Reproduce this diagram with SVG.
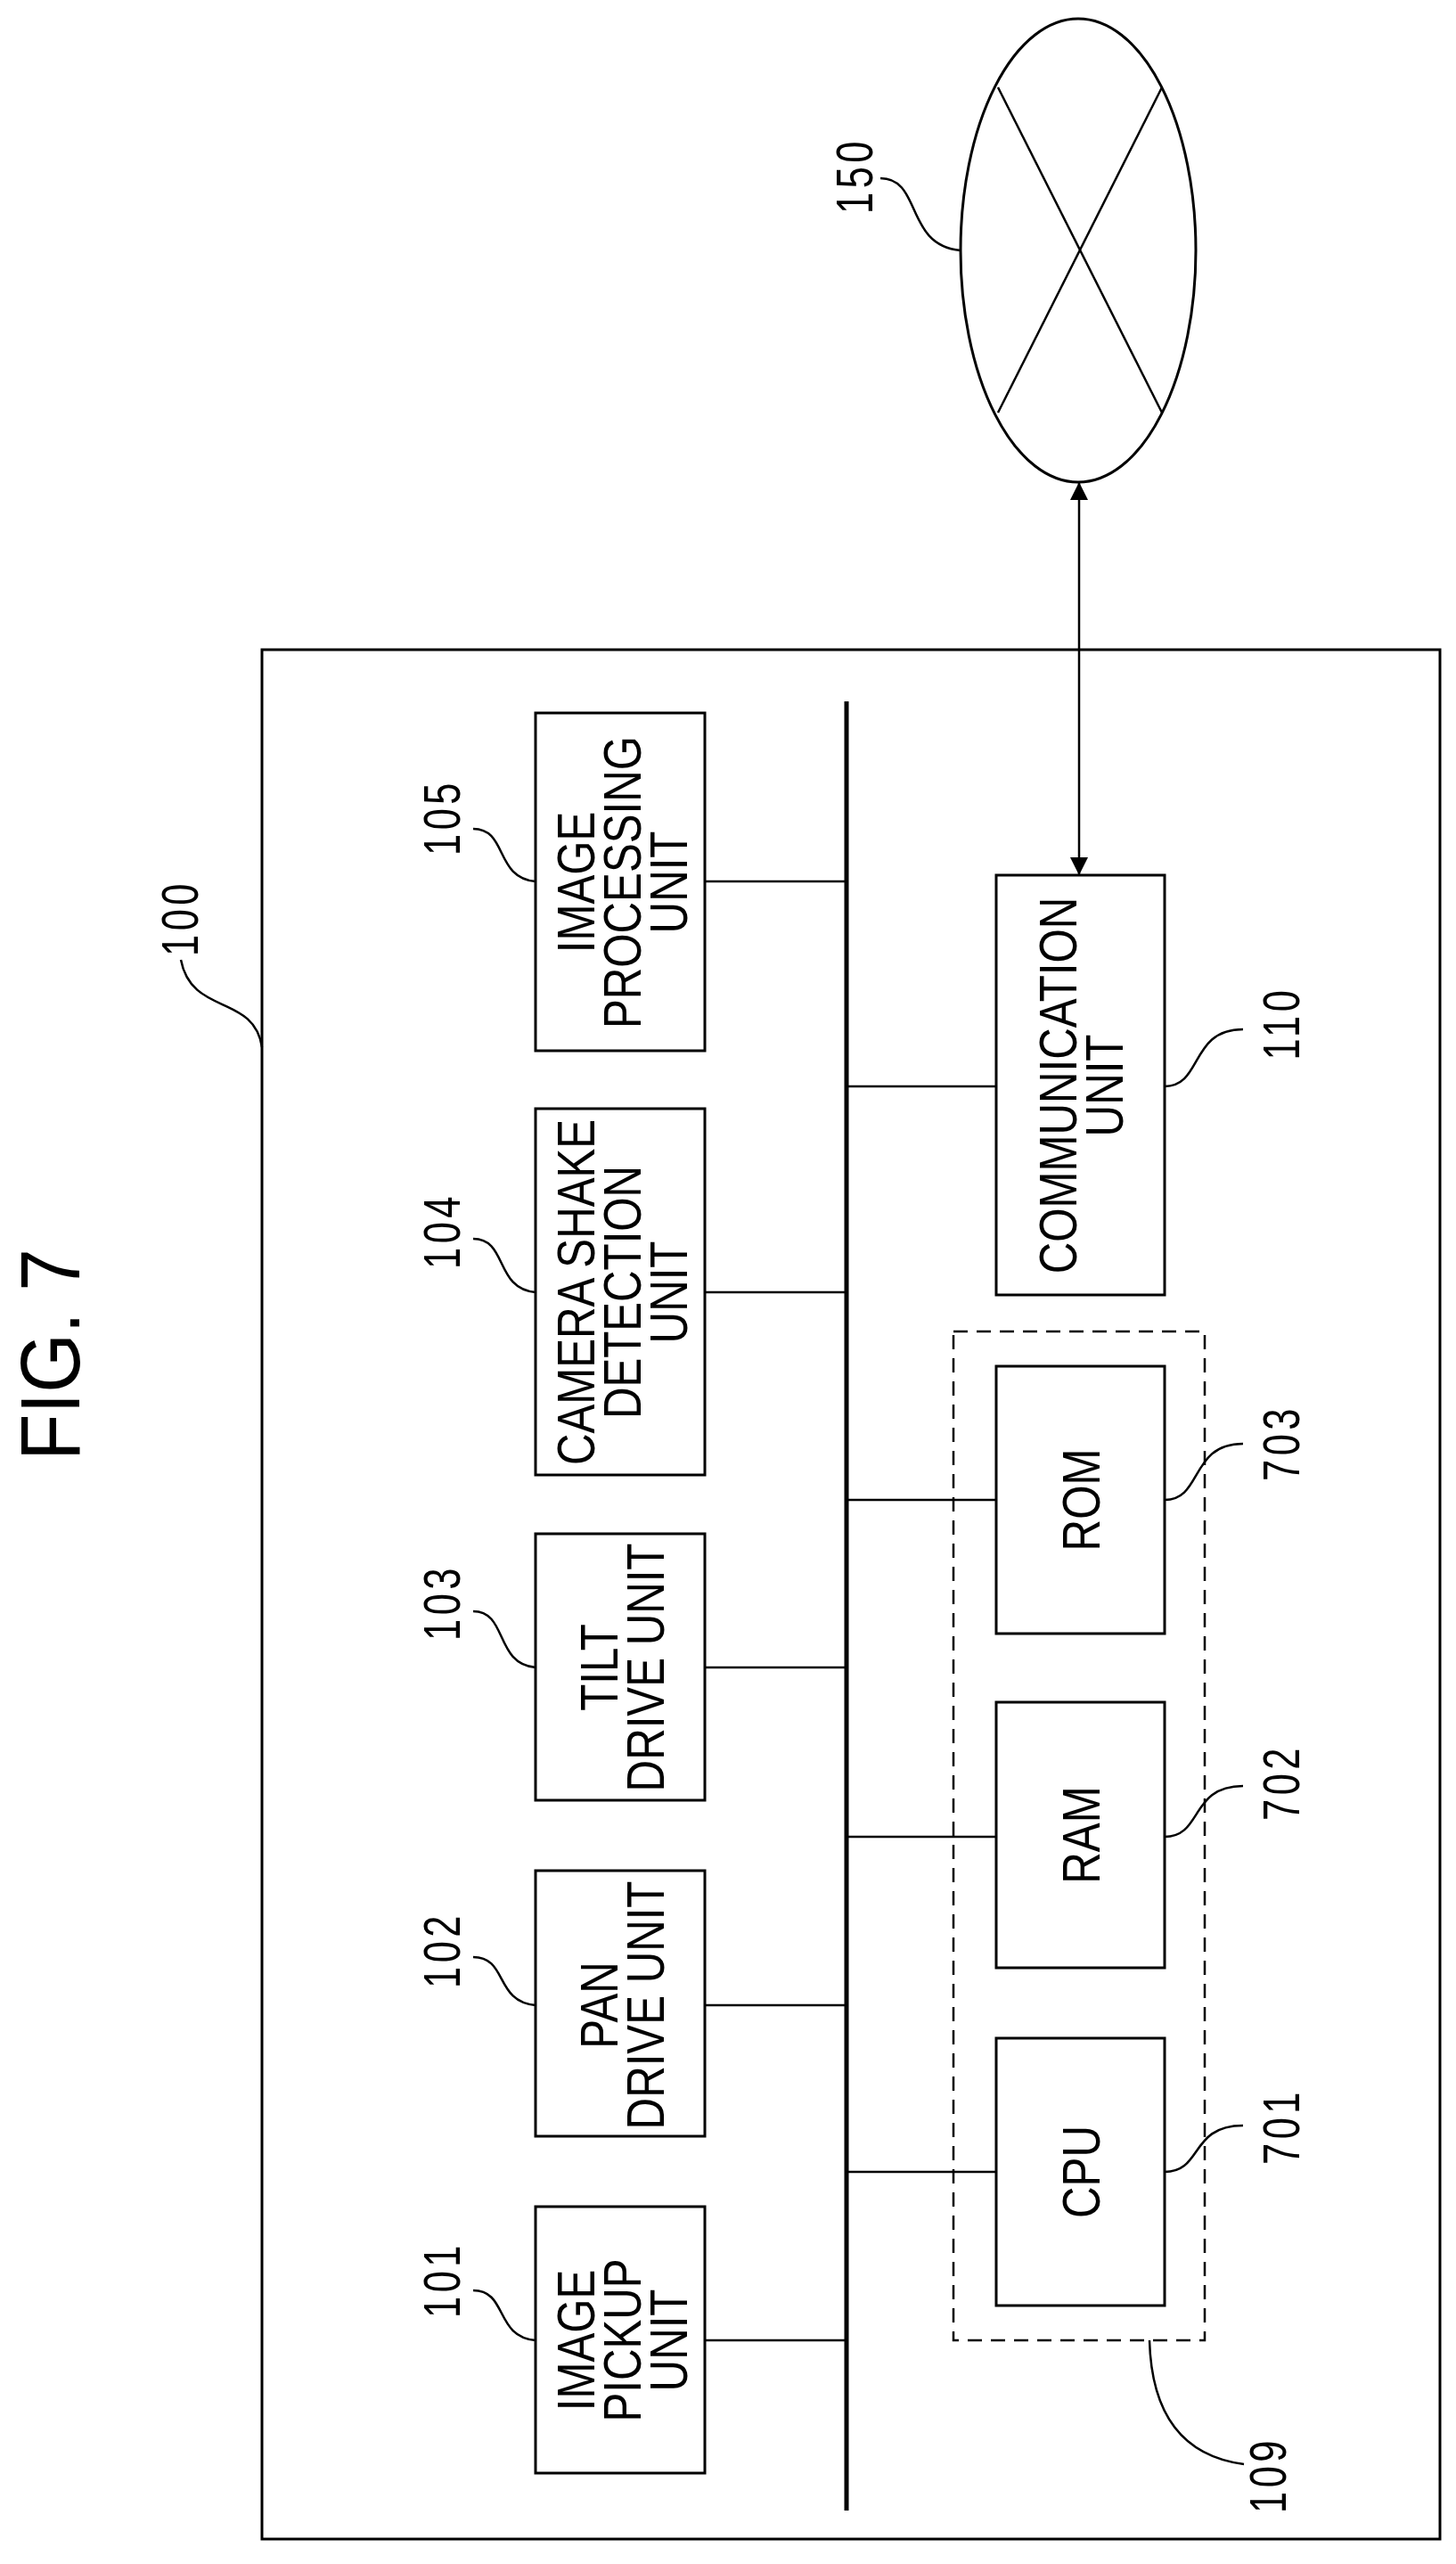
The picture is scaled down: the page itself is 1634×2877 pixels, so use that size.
<svg xmlns="http://www.w3.org/2000/svg" width="1634" height="2877" viewBox="0 0 1634 2877">
<style>
.b{fill:none;stroke:#000;stroke-width:3}
.l{fill:none;stroke:#000;stroke-width:2.5}
.t{font-family:"Liberation Sans",Arial,sans-serif;font-size:60px;text-anchor:middle;fill:#000}
.n{font-family:"Liberation Sans",Arial,sans-serif;font-size:58px;text-anchor:middle;fill:#000;letter-spacing:6px}
</style>
<defs>
<marker id="ah" viewBox="0 0 10 10" refX="10" refY="5" markerWidth="26" markerHeight="20" markerUnits="userSpaceOnUse" orient="auto-start-reverse">
<path d="M0,0 L10,5 L0,10 Z" fill="#000"/>
</marker>
</defs>
<rect width="1634" height="2877" fill="#fff"/>
<text class="t" style="font-size:95px" transform="translate(89,1520) rotate(-90) scale(0.9,1)">FIG. 7</text>

<g id="n100"><rect class="b" x="294" y="729" width="1322" height="2120"/>
<text class="n" transform="translate(222,1030) rotate(-90) scale(0.75,1)">100</text></g>

<g id="n150"><ellipse class="b" cx="1210" cy="281" rx="132" ry="260"/>
<line class="l" x1="1120" y1="98" x2="1304" y2="463"/><line class="l" x1="1304" y1="98" x2="1120" y2="463"/>
<text class="n" transform="translate(979,197) rotate(-90) scale(0.75,1)">150</text></g>

<g id="n105"><rect class="b" x="601" y="800" width="190" height="379"/>
<text class="t" transform="translate(667,990) rotate(-90) scale(0.82,1)">IMAGE</text>
<text class="t" transform="translate(719,990) rotate(-90) scale(0.82,1)">PROCESSING</text>
<text class="t" transform="translate(771,990) rotate(-90) scale(0.82,1)">UNIT</text>
<text class="n" transform="translate(516,917) rotate(-90) scale(0.75,1)">105</text></g>

<g id="n104"><rect class="b" x="601" y="1244" width="190" height="411"/>
<text class="t" transform="translate(667,1450) rotate(-90) scale(0.82,1)">CAMERA SHAKE</text>
<text class="t" transform="translate(719,1450) rotate(-90) scale(0.82,1)">DETECTION</text>
<text class="t" transform="translate(771,1450) rotate(-90) scale(0.82,1)">UNIT</text>
<text class="n" transform="translate(516,1381) rotate(-90) scale(0.75,1)">104</text></g>

<g id="n103"><rect class="b" x="601" y="1721" width="190" height="299"/>
<text class="t" transform="translate(693,1871) rotate(-90) scale(0.82,1)">TILT</text>
<text class="t" transform="translate(745,1871) rotate(-90) scale(0.82,1)">DRIVE UNIT</text>
<text class="n" transform="translate(516,1798) rotate(-90) scale(0.75,1)">103</text></g>

<g id="n102"><rect class="b" x="601" y="2099" width="190" height="298"/>
<text class="t" transform="translate(693,2250) rotate(-90) scale(0.82,1)">PAN</text>
<text class="t" transform="translate(745,2250) rotate(-90) scale(0.82,1)">DRIVE UNIT</text>
<text class="n" transform="translate(516,2188) rotate(-90) scale(0.75,1)">102</text></g>

<g id="n101"><rect class="b" x="601" y="2476" width="190" height="299"/>
<text class="t" transform="translate(667,2626) rotate(-90) scale(0.82,1)">IMAGE</text>
<text class="t" transform="translate(719,2626) rotate(-90) scale(0.82,1)">PICKUP</text>
<text class="t" transform="translate(771,2626) rotate(-90) scale(0.82,1)">UNIT</text>
<text class="n" transform="translate(516,2558) rotate(-90) scale(0.75,1)">101</text></g>

<g id="n110"><rect class="b" x="1118" y="982" width="189" height="471"/>
<text class="t" transform="translate(1208,1218) rotate(-90) scale(0.82,1)">COMMUNICATION</text>
<text class="t" transform="translate(1260,1218) rotate(-90) scale(0.82,1)">UNIT</text>
<text class="n" transform="translate(1458,1148) rotate(-90) scale(0.75,1)">110</text></g>

<g id="n109"><rect x="1070" y="1494" width="282" height="1132" fill="none" stroke="#000" stroke-width="2.5" stroke-dasharray="16,10"/>
<text class="n" transform="translate(1443,2777) rotate(-90) scale(0.75,1)">109</text></g>

<g id="n703"><rect class="b" x="1118" y="1533" width="189" height="300"/>
<text class="t" transform="translate(1234,1683) rotate(-90) scale(0.82,1)">ROM</text>
<text class="n" transform="translate(1458,1619) rotate(-90) scale(0.75,1)">703</text></g>

<g id="n702"><rect class="b" x="1118" y="1910" width="189" height="298"/>
<text class="t" transform="translate(1234,2059) rotate(-90) scale(0.82,1)">RAM</text>
<text class="n" transform="translate(1458,2000) rotate(-90) scale(0.75,1)">702</text></g>

<g id="n701"><rect class="b" x="1118" y="2287" width="189" height="300"/>
<text class="t" transform="translate(1234,2437) rotate(-90) scale(0.82,1)">CPU</text>
<text class="n" transform="translate(1458,2386) rotate(-90) scale(0.75,1)">701</text></g>

<g id="connectors">
<line x1="950" y1="787" x2="950" y2="2817" stroke="#000" stroke-width="5"/>
<line class="l" x1="791" y1="989" x2="950" y2="989"/>
<line class="l" x1="791" y1="1450" x2="950" y2="1450"/>
<line class="l" x1="791" y1="1871" x2="950" y2="1871"/>
<line class="l" x1="791" y1="2250" x2="950" y2="2250"/>
<line class="l" x1="791" y1="2626" x2="950" y2="2626"/>
<line class="l" x1="950" y1="1219" x2="1118" y2="1219"/>
<line class="l" x1="950" y1="1683" x2="1118" y2="1683"/>
<line class="l" x1="950" y1="2061" x2="1118" y2="2061"/>
<line class="l" x1="950" y1="2437" x2="1118" y2="2437"/>
<line class="l" x1="1211" y1="541" x2="1211" y2="982" marker-start="url(#ah)" marker-end="url(#ah)"/>
<path class="l" d="M988,200 C1035,200 1015,275 1078,281"/>
<path class="l" d="M203,1077 C215,1140 285,1115 294,1175"/>
<path class="l" d="M531,930 C570,930 555,985 601,989"/>
<path class="l" d="M531,1390 C570,1390 555,1446 601,1450"/>
<path class="l" d="M531,1808 C570,1808 555,1867 601,1871"/>
<path class="l" d="M531,2196 C570,2196 555,2246 601,2250"/>
<path class="l" d="M531,2570 C570,2570 555,2622 601,2626"/>
<path class="l" d="M1307,1219 C1350,1219 1335,1155 1395,1155"/>
<path class="l" d="M1307,1683 C1350,1683 1335,1620 1395,1620"/>
<path class="l" d="M1307,2061 C1350,2061 1335,2004 1395,2004"/>
<path class="l" d="M1307,2437 C1350,2437 1335,2385 1395,2385"/>
<path class="l" d="M1290,2626 C1292,2700 1320,2755 1396,2765"/>
</g>
</svg>
